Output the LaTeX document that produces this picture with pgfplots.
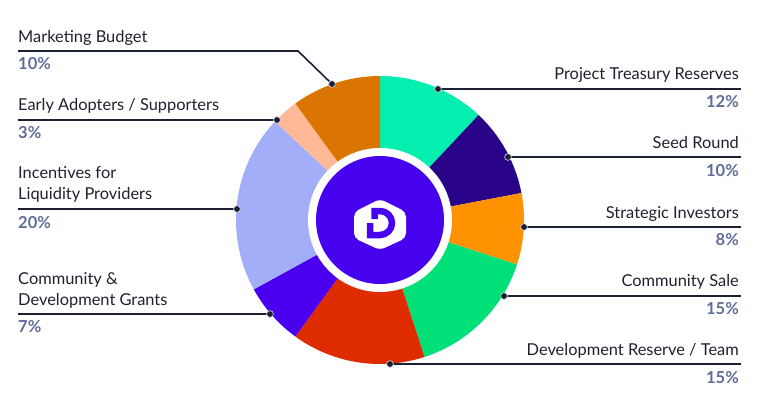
\documentclass[border=0pt]{standalone}
\usepackage{pgfplots}
\pgfplotsset{compat=1.18}
\usepackage{fontspec}
\setmainfont{Lato}
\definecolor{cTre}{HTML}{03EEAF}
\definecolor{cSeed}{HTML}{290388}
\definecolor{cStr}{HTML}{FF9200}
\definecolor{cSale}{HTML}{00E078}
\definecolor{cDev}{HTML}{DE2C00}
\definecolor{cGr}{HTML}{4A00EE}
\definecolor{cInc}{HTML}{A3AEF9}
\definecolor{cEa}{HTML}{FFB996}
\definecolor{cMk}{HTML}{D97500}
\definecolor{cCen}{HTML}{4703EE}
\definecolor{cLine}{HTML}{1C2033}
\definecolor{cTxt}{HTML}{1E2230}
\definecolor{cPct}{HTML}{5F6C98}
% slice: cumulative start (%), value (%), colour
\newcommand\slice[3]{\fill[#3] (axis cs:380,220) -- ++({90-3.6*#1}:144pt) arc[start angle={90-3.6*#1}, delta angle={-3.6*#2}, radius=144pt] -- cycle;}
\newcommand\lab{\fontsize{16.4}{21}\selectfont\color{cTxt}}
\newcommand\pct{\fontsize{16.5}{20}\selectfont\bfseries\color{cPct}}
\begin{document}
\begin{tikzpicture}
\begin{axis}[
  scale only axis, width=768pt, height=401pt,
  xmin=0, xmax=768, ymin=0, ymax=401, y dir=reverse,
  hide axis, clip=false]
% shares in percent, clockwise from the top
\slice{0}{12}{cTre}
\slice{12}{10}{cSeed}
\slice{22}{8}{cStr}
\slice{30}{15}{cSale}
\slice{45}{15}{cDev}
\slice{60}{7}{cGr}
\slice{67}{20}{cInc}
\slice{87}{3}{cEa}
\slice{90}{10}{cMk}
\fill[white] (axis cs:380,220) circle[radius=72pt];
\fill[cCen] (axis cs:380,220) circle[radius=64pt];
\fill[white, rounded corners=5pt] (axis cs:380,199) -- (axis cs:406,212) -- (axis cs:406,238) -- (axis cs:380,250) -- (axis cs:354,238) -- (axis cs:354,212) -- cycle;
\draw[line width=6.5pt, cCen, line join=miter] (axis cs:374.5,219) -- (axis cs:374.5,211) -- (axis cs:380,211) arc[start angle=90, end angle=-90, radius=12pt] -- (axis cs:370,235) -- (axis cs:370,223);
% leader lines
\addplot[cLine, line width=1.6pt] coordinates {(18,51) (298,51) (332,84)};
\addplot[cLine, line width=1.6pt] coordinates {(18,120) (277,120)};
\addplot[cLine, line width=1.6pt] coordinates {(18,209) (237,209)};
\addplot[cLine, line width=1.6pt] coordinates {(18,314) (270,314)};
\addplot[cLine, line width=1.6pt] coordinates {(741,89) (438,89)};
\addplot[cLine, line width=1.6pt] coordinates {(741,157) (508,157)};
\addplot[cLine, line width=1.6pt] coordinates {(741,227) (524,227)};
\addplot[cLine, line width=1.6pt] coordinates {(741,296) (504,296)};
\addplot[cLine, line width=1.6pt] coordinates {(741,364) (390,364)};
\addplot[only marks, mark=*, mark size=3.4pt, mark options={fill=cLine, draw=white!80!cPct, line width=0.6pt}] coordinates {(332,84) (277,120) (237,209) (270,314) (438,89) (508,157) (524,227) (504,296) (390,364)};
% left labels
\node[anchor=base west, inner sep=0] at (axis cs:18,43) {\lab Marketing Budget};
\node[anchor=base west, inner sep=0] at (axis cs:18,70) {\pct 10\%};
\node[anchor=base west, inner sep=0] at (axis cs:18,110.7) {\lab Early Adopters / Supporters};
\node[anchor=base west, inner sep=0] at (axis cs:18,138.3) {\pct 3\%};
\node[anchor=base west, inner sep=0] at (axis cs:18,178.3) {\lab Incentives for};
\node[anchor=base west, inner sep=0] at (axis cs:18,199.3) {\lab Liquidity Providers};
\node[anchor=base west, inner sep=0] at (axis cs:18,228.3) {\pct 20\%};
\node[anchor=base west, inner sep=0] at (axis cs:18,284) {\lab Community \&};
\node[anchor=base west, inner sep=0] at (axis cs:18,305) {\lab Development Grants};
\node[anchor=base west, inner sep=0] at (axis cs:18,332.7) {\pct 7\%};
% right labels
\node[anchor=base east, inner sep=0] at (axis cs:739,79.3) {\lab Project Treasury Reserves};
\node[anchor=base east, inner sep=0] at (axis cs:739,107.3) {\pct 12\%};
\node[anchor=base east, inner sep=0] at (axis cs:739,148.3) {\lab Seed Round};
\node[anchor=base east, inner sep=0] at (axis cs:739,176.7) {\pct 10\%};
\node[anchor=base east, inner sep=0] at (axis cs:739,218.3) {\lab Strategic Investors};
\node[anchor=base east, inner sep=0] at (axis cs:739,245) {\pct 8\%};
\node[anchor=base east, inner sep=0] at (axis cs:739,286.7) {\lab Community Sale};
\node[anchor=base east, inner sep=0] at (axis cs:739,314) {\pct 15\%};
\node[anchor=base east, inner sep=0] at (axis cs:739,355.7) {\lab Development Reserve / Team};
\node[anchor=base east, inner sep=0] at (axis cs:739,383.3) {\pct 15\%};
\end{axis}
\pgfresetboundingbox
\path[use as bounding box] (0,0) rectangle (768pt,401pt);
\end{tikzpicture}
\end{document}
